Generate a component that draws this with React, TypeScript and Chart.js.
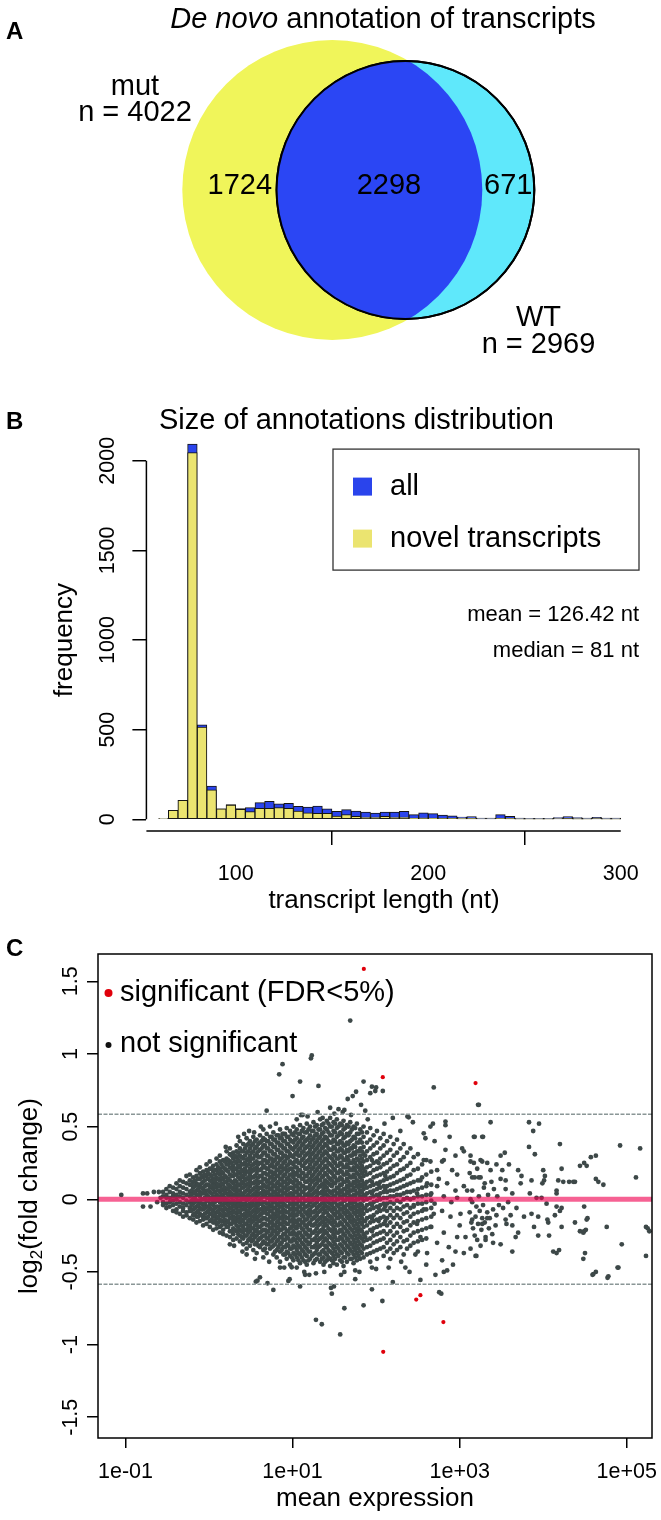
import React, { useEffect, useRef } from "react";
import { Chart, registerables } from "chart.js";

Chart.register(...registerables);

const FAMILY = "'Liberation Sans', Arial, Helvetica, sans-serif";
const font = (size: number, style = "") => `${style} ${size}px ${FAMILY}`.trim();

// ---------------- Panel A : Venn ----------------
const vennTitleItalic = "De novo";
const vennTitleRest = " annotation of transcripts";
const vennSetLabels = ["mut", "WT"];
const vennSetSizes = [4022, 2969];
const vennRegionCounts = [1724, 2298, 671]; // mut only, both, WT only

// ---------------- Panel B : histogram ----------------
const histTitle = "Size of annotations distribution";
const histBreaks = [60, 65, 70, 75, 80, 85, 90, 95, 100, 105, 110, 115, 120, 125, 130, 135, 140, 145, 150, 155, 160, 165, 170, 175, 180, 185, 190, 195, 200, 205, 210, 215, 220, 225, 230, 235, 240, 245, 250, 255, 260, 265, 270, 275, 280, 285, 290, 295, 300];
const histAll = [4, 50, 106, 2093, 527, 186, 59, 82, 60, 65, 93, 100, 87, 89, 72, 69, 74, 58, 45, 54, 46, 41, 35, 41, 41, 45, 26, 37, 32, 24, 19, 13, 15, 7, 7, 26, 17, 7, 6, 6, 6, 10, 15, 10, 7, 11, 7, 7];
const histNovel = [4, 50, 106, 2045, 515, 165, 59, 80, 56, 43, 61, 61, 65, 61, 46, 37, 33, 33, 18, 26, 17, 13, 13, 17, 13, 13, 7, 9, 7, 5, 4, 3, 3, 2, 2, 4, 3, 1, 1, 1, 1, 2, 2, 1, 1, 2, 1, 1];
const histSeriesLabels = ["all", "novel transcripts"];
const histStats = ["mean = 126.42 nt", "median = 81 nt"];
const histXTicks = [100, 200, 300];
const histYTicks = [0, 500, 1000, 1500, 2000];
const histXLabel = "transcript length (nt)";
const histYLabel = "frequency";

// ---------------- Panel C : MA plot ----------------
const maXTicks = [0.1, 10, 1000, 100000];
const maYTicks = [-1.5, -1, -0.5, 0, 0.5, 1, 1.5];
const maFoldThreshold = Math.log2(1.5);
const maLegendLabels = ["significant (FDR<5%)", "not significant"];
const maXLabel = "mean expression";
// [log10(mean expression), log2 fold change]
const maSignificant: [number, number][] = [
  [1.853, 1.585], [2.08, 0.84], [3.19, 0.8], [2.48, -0.69], [2.53, -0.66], [2.805, -0.845], [2.085, -1.05],
];
// dense core, outer columns: [log10(mean), [log2FC ...]]
const maCoreColumns: [number, number[]][] = [
  [-0.55, [0.05, 0.02, -0.02, -0.04]],
  [-0.51, [0.07, 0.03, 0.01, -0.03, -0.06]],
  [-0.47, [0.09, 0.05, 0.01, -0.02, -0.05]],
  [-0.43, [0.08, 0.04, 0.02, -0.01, -0.04, -0.08]],
  [-0.39, [0.11, 0.07, 0.03, 0.0, -0.03, -0.07, -0.09]],
  [-0.35, [0.13, 0.09, 0.05, 0.02, -0.02, -0.05, -0.1]],
  [-0.31, [0.12, 0.08, 0.04, 0.01, -0.03, -0.06, -0.08, -0.12]],
  [-0.27, [0.16, 0.11, 0.07, 0.03, -0.01, -0.04, -0.09, -0.11]],
  [-0.23, [0.17, 0.13, 0.1, 0.05, 0.02, -0.02, -0.06, -0.08, -0.13]],
  [-0.19, [0.15, 0.12, 0.08, 0.04, 0.0, -0.03, -0.07, -0.11, -0.14]],
  [-0.15, [0.2, 0.16, 0.11, 0.06, 0.03, -0.01, -0.05, -0.09, -0.12, -0.16]],
  [-0.11, [0.22, 0.18, 0.14, 0.09, 0.05, 0.02, -0.02, -0.06, -0.1, -0.15]],
  [-0.07, [0.19, 0.15, 0.12, 0.07, 0.04, 0.0, -0.04, -0.07, -0.12, -0.14, -0.18]],
  [-0.03, [0.24, 0.2, 0.16, 0.1, 0.06, 0.03, -0.01, -0.05, -0.09, -0.13, -0.17]],
  [0.01, [0.26, 0.21, 0.17, 0.13, 0.08, 0.05, 0.01, -0.03, -0.06, -0.1, -0.15, -0.19]],
  [0.05, [0.23, 0.19, 0.14, 0.11, 0.07, 0.02, -0.01, -0.04, -0.08, -0.12, -0.16, -0.21]],
  [0.09, [0.28, 0.24, 0.2, 0.15, 0.11, 0.08, 0.03, 0.0, -0.05, -0.09, -0.13, -0.17, -0.2]],
  [0.13, [0.3, 0.26, 0.21, 0.17, 0.13, 0.09, 0.05, 0.01, -0.02, -0.07, -0.1, -0.14, -0.19, -0.23]],
  [0.17, [0.27, 0.22, 0.18, 0.14, 0.1, 0.06, 0.03, -0.01, -0.04, -0.08, -0.12, -0.15, -0.21, -0.24]],
  [0.21, [0.33, 0.28, 0.24, 0.2, 0.15, 0.12, 0.07, 0.04, 0.0, -0.03, -0.07, -0.11, -0.16, -0.19, -0.25]],
  [0.25, [0.35, 0.31, 0.26, 0.22, 0.17, 0.13, 0.09, 0.05, 0.02, -0.02, -0.06, -0.09, -0.13, -0.17, -0.22, -0.26]],
  [0.29, [0.32, 0.28, 0.23, 0.19, 0.16, 0.11, 0.07, 0.03, -0.01, -0.04, -0.08, -0.12, -0.15, -0.2, -0.24, -0.28]],
  [0.33, [0.37, 0.33, 0.29, 0.25, 0.21, 0.17, 0.12, 0.08, 0.04, 0.01, -0.03, -0.06, -0.1, -0.14, -0.18, -0.22, -0.27]],
  [0.37, [0.4, 0.35, 0.3, 0.26, 0.22, 0.18, 0.14, 0.1, 0.06, 0.02, -0.02, -0.05, -0.09, -0.13, -0.16, -0.21, -0.25, -0.29]],
  [0.41, [0.38, 0.33, 0.28, 0.24, 0.19, 0.15, 0.11, 0.08, 0.03, 0.0, -0.04, -0.07, -0.11, -0.15, -0.19, -0.23, -0.27, -0.31]],
  [0.45, [0.42, 0.37, 0.32, 0.27, 0.23, 0.19, 0.14, 0.1, 0.06, 0.02, -0.01, -0.05, -0.08, -0.12, -0.17, -0.21, -0.25, -0.3, -0.34]],
  [0.49, [0.4, 0.35, 0.3, 0.26, 0.21, 0.17, 0.13, 0.09, 0.05, 0.01, -0.03, -0.06, -0.1, -0.14, -0.18, -0.22, -0.27, -0.32]],
  [0.53, [0.43, 0.38, 0.33, 0.28, 0.24, 0.2, 0.15, 0.11, 0.07, 0.03, -0.01, -0.04, -0.08, -0.12, -0.15, -0.2, -0.24, -0.28, -0.35]],
  [0.57, [0.41, 0.36, 0.31, 0.26, 0.22, 0.18, 0.13, 0.09, 0.05, 0.02, -0.02, -0.06, -0.09, -0.13, -0.17, -0.21, -0.25, -0.3, -0.37]],
  [0.61, [0.44, 0.39, 0.34, 0.29, 0.25, 0.2, 0.16, 0.12, 0.08, 0.04, 0.0, -0.03, -0.07, -0.11, -0.15, -0.19, -0.23, -0.27, -0.33]],
  [0.65, [0.42, 0.37, 0.32, 0.27, 0.23, 0.18, 0.14, 0.1, 0.06, 0.02, -0.02, -0.05, -0.09, -0.13, -0.17, -0.21, -0.25, -0.29, -0.35, -0.4]],
  [0.69, [0.45, 0.4, 0.35, 0.3, 0.25, 0.21, 0.17, 0.12, 0.08, 0.04, 0.01, -0.03, -0.07, -0.1, -0.14, -0.18, -0.23, -0.27, -0.31, -0.37]],
  [0.73, [0.43, 0.38, 0.33, 0.28, 0.23, 0.19, 0.15, 0.11, 0.07, 0.03, -0.01, -0.05, -0.08, -0.12, -0.16, -0.2, -0.25, -0.29, -0.34]],
  [0.77, [0.46, 0.41, 0.36, 0.31, 0.26, 0.22, 0.17, 0.13, 0.09, 0.05, 0.01, -0.02, -0.06, -0.1, -0.14, -0.18, -0.22, -0.27, -0.32, -0.38]],
  [0.81, [0.44, 0.39, 0.34, 0.29, 0.24, 0.2, 0.16, 0.11, 0.07, 0.03, 0.0, -0.04, -0.08, -0.12, -0.16, -0.2, -0.24, -0.29, -0.35, -0.4]],
  [0.85, [0.48, 0.42, 0.37, 0.32, 0.27, 0.22, 0.18, 0.14, 0.1, 0.06, 0.02, -0.02, -0.05, -0.09, -0.13, -0.17, -0.21, -0.26, -0.31, -0.36, -0.43]],
  [0.89, [0.45, 0.4, 0.35, 0.3, 0.25, 0.21, 0.16, 0.12, 0.08, 0.04, 0.0, -0.03, -0.07, -0.11, -0.15, -0.19, -0.24, -0.28, -0.33, -0.38]],
  [0.93, [0.49, 0.43, 0.38, 0.33, 0.28, 0.23, 0.19, 0.14, 0.1, 0.06, 0.02, -0.01, -0.05, -0.09, -0.13, -0.17, -0.22, -0.26, -0.31, -0.36, -0.41]],
  [0.97, [0.47, 0.41, 0.36, 0.31, 0.26, 0.21, 0.17, 0.13, 0.08, 0.04, 0.01, -0.03, -0.07, -0.11, -0.15, -0.2, -0.24, -0.29, -0.34, -0.39, -0.45]],
  [1.01, [0.5, 0.44, 0.39, 0.34, 0.29, 0.24, 0.19, 0.15, 0.11, 0.07, 0.03, -0.01, -0.05, -0.09, -0.13, -0.17, -0.22, -0.27, -0.32, -0.37, -0.42]],
  [1.05, [0.48, 0.42, 0.37, 0.32, 0.27, 0.22, 0.18, 0.13, 0.09, 0.05, 0.01, -0.03, -0.07, -0.11, -0.16, -0.2, -0.25, -0.3, -0.35, -0.4, -0.47]],
  [1.09, [0.51, 0.45, 0.4, 0.35, 0.3, 0.25, 0.2, 0.16, 0.11, 0.07, 0.03, -0.01, -0.05, -0.09, -0.14, -0.18, -0.23, -0.28, -0.33, -0.38, -0.44]],
  [1.13, [0.49, 0.43, 0.38, 0.33, 0.28, 0.23, 0.18, 0.14, 0.09, 0.05, 0.01, -0.03, -0.07, -0.12, -0.16, -0.21, -0.26, -0.31, -0.36, -0.42]],
  [1.17, [0.52, 0.46, 0.41, 0.36, 0.31, 0.26, 0.21, 0.16, 0.12, 0.08, 0.03, -0.01, -0.05, -0.1, -0.14, -0.19, -0.24, -0.29, -0.34, -0.39, -0.45]],
  [1.21, [0.5, 0.44, 0.39, 0.34, 0.29, 0.24, 0.19, 0.14, 0.1, 0.06, 0.02, -0.02, -0.07, -0.11, -0.16, -0.21, -0.25, -0.3, -0.36, -0.41]],
  [1.25, [0.53, 0.47, 0.42, 0.37, 0.32, 0.27, 0.22, 0.17, 0.13, 0.08, 0.04, 0.0, -0.04, -0.09, -0.13, -0.18, -0.23, -0.28, -0.33, -0.38, -0.44]],
  [1.29, [0.51, 0.45, 0.4, 0.35, 0.3, 0.25, 0.2, 0.15, 0.11, 0.06, 0.02, -0.02, -0.06, -0.11, -0.15, -0.2, -0.25, -0.3, -0.35, -0.41]],
  [1.33, [0.55, 0.48, 0.43, 0.38, 0.33, 0.28, 0.23, 0.18, 0.13, 0.09, 0.04, 0.0, -0.04, -0.08, -0.13, -0.17, -0.22, -0.27, -0.32, -0.38, -0.43]],
  [1.37, [0.52, 0.46, 0.41, 0.36, 0.31, 0.26, 0.21, 0.16, 0.11, 0.07, 0.03, -0.02, -0.06, -0.1, -0.15, -0.19, -0.24, -0.29, -0.35, -0.4, -0.45]],
  [1.41, [0.54, 0.48, 0.42, 0.37, 0.32, 0.27, 0.22, 0.17, 0.12, 0.08, 0.03, -0.01, -0.05, -0.09, -0.14, -0.18, -0.23, -0.28, -0.33, -0.38, -0.42]],
  [1.45, [0.56, 0.5, 0.44, 0.39, 0.34, 0.29, 0.24, 0.19, 0.14, 0.1, 0.05, 0.01, -0.03, -0.07, -0.12, -0.16, -0.21, -0.26, -0.31, -0.36, -0.41, -0.46]],
  [1.49, [0.53, 0.47, 0.41, 0.36, 0.31, 0.26, 0.21, 0.16, 0.11, 0.06, 0.02, -0.02, -0.06, -0.1, -0.15, -0.19, -0.24, -0.29, -0.34, -0.39, -0.44]],
  [1.53, [0.55, 0.49, 0.43, 0.38, 0.33, 0.28, 0.23, 0.18, 0.13, 0.08, 0.04, 0.0, -0.04, -0.09, -0.13, -0.18, -0.23, -0.28, -0.33, -0.38, -0.45]],
  [1.57, [0.52, 0.46, 0.4, 0.35, 0.3, 0.25, 0.2, 0.15, 0.1, 0.06, 0.02, -0.03, -0.07, -0.11, -0.16, -0.21, -0.26, -0.31, -0.36, -0.42]],
  [1.61, [0.54, 0.48, 0.42, 0.37, 0.32, 0.27, 0.22, 0.17, 0.12, 0.07, 0.03, -0.01, -0.05, -0.09, -0.14, -0.19, -0.24, -0.29, -0.34, -0.4, -0.46]],
  [1.65, [0.51, 0.45, 0.39, 0.34, 0.29, 0.24, 0.19, 0.14, 0.09, 0.05, 0.01, -0.04, -0.08, -0.12, -0.17, -0.22, -0.27, -0.32, -0.37, -0.43]],
  [1.69, [0.53, 0.46, 0.4, 0.35, 0.3, 0.25, 0.2, 0.15, 0.1, 0.06, 0.02, -0.02, -0.06, -0.11, -0.15, -0.2, -0.25, -0.3, -0.35, -0.41]],
  [1.73, [0.5, 0.43, 0.37, 0.32, 0.27, 0.22, 0.17, 0.12, 0.08, 0.03, -0.01, -0.05, -0.09, -0.14, -0.18, -0.23, -0.28, -0.33, -0.38, -0.44]],
  [1.77, [0.52, 0.45, 0.39, 0.33, 0.28, 0.23, 0.18, 0.13, 0.09, 0.04, 0.0, -0.04, -0.08, -0.12, -0.17, -0.22, -0.27, -0.32, -0.37, -0.42]],
  [1.81, [0.48, 0.41, 0.35, 0.3, 0.25, 0.2, 0.15, 0.1, 0.06, 0.02, -0.03, -0.07, -0.11, -0.16, -0.21, -0.26, -0.31, -0.36, -0.41]],
  [1.85, [0.5, 0.43, 0.36, 0.31, 0.26, 0.21, 0.16, 0.11, 0.07, 0.03, -0.01, -0.06, -0.1, -0.15, -0.19, -0.24, -0.29, -0.34, -0.4]],
  [1.89, [0.46, 0.39, 0.33, 0.27, 0.22, 0.17, 0.12, 0.08, 0.04, 0.0, -0.04, -0.08, -0.13, -0.18, -0.23, -0.28, -0.33, -0.38]],
  [1.93, [0.49, 0.41, 0.35, 0.29, 0.23, 0.18, 0.13, 0.09, 0.05, 0.01, -0.03, -0.07, -0.12, -0.16, -0.21, -0.27, -0.32, -0.37, -0.43]],
  [1.97, [0.44, 0.37, 0.31, 0.25, 0.2, 0.15, 0.1, 0.06, 0.02, -0.02, -0.06, -0.11, -0.15, -0.2, -0.25, -0.3, -0.36]],
  [2.01, [0.47, 0.39, 0.32, 0.26, 0.21, 0.16, 0.11, 0.07, 0.03, -0.01, -0.05, -0.09, -0.14, -0.19, -0.24, -0.29, -0.35, -0.41]],
  [2.05, [0.42, 0.35, 0.28, 0.22, 0.17, 0.12, 0.08, 0.04, 0.0, -0.04, -0.08, -0.13, -0.18, -0.23, -0.28, -0.34]],
  [2.09, [0.45, 0.37, 0.3, 0.24, 0.18, 0.13, 0.09, 0.05, 0.01, -0.03, -0.07, -0.12, -0.17, -0.22, -0.27, -0.33, -0.39]],
  [2.13, [0.4, 0.32, 0.25, 0.19, 0.14, 0.09, 0.05, 0.01, -0.03, -0.08, -0.13, -0.18, -0.24, -0.3, -0.36]],
  [2.17, [0.43, 0.34, 0.27, 0.21, 0.15, 0.1, 0.06, 0.02, -0.02, -0.06, -0.11, -0.16, -0.22, -0.28, -0.34, -0.41]],
  [2.21, [0.38, 0.3, 0.23, 0.16, 0.11, 0.06, 0.02, -0.03, -0.08, -0.13, -0.19, -0.25, -0.31, -0.37]],
  [2.25, [0.41, 0.32, 0.24, 0.18, 0.12, 0.07, 0.03, -0.01, -0.06, -0.11, -0.17, -0.23, -0.29, -0.35]],
  [2.29, [0.35, 0.27, 0.2, 0.13, 0.08, 0.03, -0.02, -0.07, -0.13, -0.19, -0.26, -0.33]],
  [2.33, [0.38, 0.29, 0.21, 0.14, 0.09, 0.04, 0.0, -0.05, -0.1, -0.16, -0.22, -0.29, -0.38]],
  [2.37, [0.32, 0.23, 0.16, 0.1, 0.05, 0.01, -0.04, -0.09, -0.15, -0.21, -0.28, -0.34]],
  [2.41, [0.35, 0.25, 0.17, 0.11, 0.05, 0.0, -0.06, -0.12, -0.18, -0.25, -0.32]],
  [2.45, [0.29, 0.2, 0.12, 0.06, 0.01, -0.04, -0.1, -0.16, -0.23, -0.3]],
  [2.5, [0.31, 0.21, 0.13, 0.07, 0.02, -0.03, -0.09, -0.15, -0.22, -0.29, -0.36]],
  [2.55, [0.24, 0.15, 0.08, 0.02, -0.03, -0.08, -0.14, -0.21, -0.28]],
  [2.6, [0.27, 0.17, 0.09, 0.03, -0.02, -0.07, -0.13, -0.2, -0.27]],
  [2.66, [0.19, 0.1, 0.04, -0.01, -0.06, -0.12, -0.19]],
];
// dense core, inner columns (between the outer ones)
const maCoreInner: [number, number[]][] = [
  [-0.21, [0.1, 0.06, 0.03, -0.01, -0.04, -0.08]],
  [-0.17, [0.13, 0.09, 0.05, 0.01, -0.02, -0.06, -0.1]],
  [-0.13, [0.14, 0.1, 0.07, 0.03, -0.01, -0.04, -0.08, -0.12]],
  [-0.09, [0.16, 0.11, 0.08, 0.04, 0.0, -0.03, -0.07, -0.11]],
  [-0.05, [0.17, 0.13, 0.09, 0.05, 0.01, -0.03, -0.06, -0.1, -0.13]],
  [-0.01, [0.18, 0.14, 0.1, 0.06, 0.02, -0.01, -0.05, -0.08, -0.12]],
  [0.03, [0.21, 0.16, 0.12, 0.09, 0.04, 0.0, -0.03, -0.07, -0.1, -0.14]],
  [0.07, [0.2, 0.17, 0.13, 0.09, 0.05, 0.01, -0.02, -0.06, -0.11, -0.15]],
  [0.11, [0.22, 0.18, 0.14, 0.1, 0.06, 0.02, -0.01, -0.05, -0.08, -0.12, -0.16]],
  [0.15, [0.24, 0.19, 0.15, 0.11, 0.07, 0.03, 0.0, -0.04, -0.07, -0.11, -0.15, -0.18]],
  [0.19, [0.26, 0.21, 0.16, 0.12, 0.08, 0.05, 0.01, -0.02, -0.06, -0.1, -0.14, -0.17]],
  [0.23, [0.27, 0.24, 0.19, 0.14, 0.1, 0.07, 0.03, -0.01, -0.04, -0.08, -0.11, -0.15, -0.19]],
  [0.27, [0.3, 0.25, 0.21, 0.16, 0.12, 0.08, 0.04, 0.01, -0.03, -0.06, -0.1, -0.13, -0.17, -0.22]],
  [0.31, [0.3, 0.26, 0.21, 0.17, 0.13, 0.09, 0.06, 0.02, -0.02, -0.05, -0.09, -0.13, -0.16, -0.21]],
  [0.35, [0.32, 0.27, 0.23, 0.19, 0.15, 0.1, 0.06, 0.03, -0.01, -0.04, -0.08, -0.12, -0.15, -0.19, -0.24]],
  [0.39, [0.33, 0.29, 0.24, 0.2, 0.16, 0.12, 0.08, 0.04, 0.0, -0.03, -0.07, -0.11, -0.14, -0.18, -0.22, -0.26]],
  [0.43, [0.35, 0.3, 0.25, 0.21, 0.17, 0.13, 0.09, 0.05, 0.01, -0.03, -0.06, -0.1, -0.13, -0.17, -0.21, -0.25]],
  [0.47, [0.38, 0.33, 0.28, 0.24, 0.19, 0.15, 0.11, 0.07, 0.03, 0.0, -0.04, -0.08, -0.11, -0.15, -0.19, -0.23, -0.28]],
  [0.51, [0.37, 0.32, 0.28, 0.23, 0.19, 0.15, 0.11, 0.06, 0.02, -0.02, -0.05, -0.09, -0.12, -0.16, -0.2, -0.25, -0.29]],
  [0.55, [0.4, 0.35, 0.3, 0.25, 0.21, 0.16, 0.12, 0.08, 0.04, 0.0, -0.04, -0.07, -0.11, -0.14, -0.18, -0.22, -0.26, -0.31]],
  [0.59, [0.38, 0.33, 0.29, 0.24, 0.2, 0.15, 0.11, 0.07, 0.03, -0.01, -0.04, -0.08, -0.12, -0.15, -0.19, -0.23, -0.28, -0.32]],
  [0.63, [0.4, 0.35, 0.3, 0.25, 0.21, 0.16, 0.12, 0.08, 0.04, 0.01, -0.03, -0.07, -0.1, -0.14, -0.18, -0.22, -0.26, -0.31]],
  [0.67, [0.41, 0.37, 0.32, 0.27, 0.22, 0.18, 0.14, 0.09, 0.05, 0.02, -0.02, -0.06, -0.09, -0.13, -0.17, -0.21, -0.25, -0.3, -0.34]],
  [0.71, [0.4, 0.35, 0.3, 0.26, 0.21, 0.17, 0.13, 0.09, 0.05, 0.01, -0.03, -0.06, -0.1, -0.14, -0.18, -0.22, -0.27, -0.31]],
  [0.75, [0.43, 0.38, 0.33, 0.28, 0.24, 0.19, 0.15, 0.11, 0.07, 0.03, 0.0, -0.04, -0.08, -0.12, -0.16, -0.2, -0.24, -0.29, -0.33]],
  [0.79, [0.41, 0.36, 0.31, 0.27, 0.22, 0.18, 0.14, 0.09, 0.05, 0.02, -0.02, -0.06, -0.1, -0.13, -0.18, -0.22, -0.26, -0.31, -0.36]],
  [0.83, [0.44, 0.39, 0.34, 0.29, 0.25, 0.2, 0.16, 0.12, 0.08, 0.04, 0.0, -0.03, -0.07, -0.11, -0.15, -0.19, -0.23, -0.28, -0.33]],
  [0.87, [0.42, 0.37, 0.32, 0.28, 0.23, 0.19, 0.14, 0.1, 0.06, 0.02, -0.01, -0.05, -0.09, -0.13, -0.17, -0.21, -0.26, -0.3, -0.35]],
  [0.91, [0.45, 0.4, 0.35, 0.3, 0.26, 0.21, 0.17, 0.12, 0.08, 0.04, 0.0, -0.04, -0.08, -0.12, -0.16, -0.2, -0.24, -0.28, -0.33, -0.38]],
  [0.95, [0.43, 0.38, 0.33, 0.29, 0.24, 0.2, 0.15, 0.11, 0.07, 0.03, -0.01, -0.05, -0.09, -0.13, -0.17, -0.22, -0.27, -0.32, -0.37]],
  [0.99, [0.45, 0.4, 0.35, 0.3, 0.25, 0.21, 0.17, 0.12, 0.08, 0.04, 0.01, -0.03, -0.07, -0.11, -0.15, -0.19, -0.24, -0.29, -0.34, -0.4]],
  [1.03, [0.46, 0.41, 0.36, 0.31, 0.26, 0.22, 0.17, 0.13, 0.09, 0.05, 0.01, -0.03, -0.07, -0.11, -0.15, -0.19, -0.24, -0.28, -0.33, -0.38]],
  [1.07, [0.45, 0.39, 0.34, 0.3, 0.25, 0.2, 0.16, 0.11, 0.07, 0.03, -0.01, -0.05, -0.09, -0.14, -0.18, -0.23, -0.27, -0.32, -0.37, -0.42]],
  [1.11, [0.47, 0.42, 0.37, 0.32, 0.27, 0.23, 0.18, 0.14, 0.09, 0.05, 0.01, -0.03, -0.07, -0.11, -0.16, -0.2, -0.25, -0.3, -0.35, -0.4]],
  [1.15, [0.46, 0.4, 0.35, 0.3, 0.25, 0.21, 0.16, 0.12, 0.07, 0.03, -0.01, -0.05, -0.09, -0.14, -0.18, -0.23, -0.28, -0.33, -0.38, -0.43]],
  [1.19, [0.48, 0.42, 0.37, 0.32, 0.27, 0.22, 0.18, 0.13, 0.08, 0.04, 0.0, -0.04, -0.08, -0.12, -0.17, -0.21, -0.26, -0.31, -0.36, -0.42]],
  [1.23, [0.47, 0.41, 0.36, 0.31, 0.26, 0.21, 0.16, 0.12, 0.07, 0.03, -0.01, -0.05, -0.09, -0.14, -0.18, -0.23, -0.28, -0.33, -0.39]],
  [1.27, [0.5, 0.44, 0.39, 0.34, 0.29, 0.24, 0.19, 0.14, 0.1, 0.05, 0.01, -0.03, -0.08, -0.12, -0.17, -0.22, -0.27, -0.32, -0.37, -0.42]],
  [1.31, [0.48, 0.42, 0.37, 0.32, 0.27, 0.22, 0.17, 0.13, 0.08, 0.04, 0.0, -0.05, -0.09, -0.14, -0.18, -0.23, -0.28, -0.33, -0.38]],
  [1.35, [0.51, 0.45, 0.4, 0.35, 0.3, 0.25, 0.2, 0.15, 0.1, 0.05, 0.01, -0.03, -0.07, -0.12, -0.16, -0.21, -0.26, -0.31, -0.36, -0.41]],
  [1.39, [0.49, 0.43, 0.38, 0.33, 0.28, 0.23, 0.18, 0.13, 0.09, 0.05, 0.0, -0.04, -0.08, -0.13, -0.17, -0.22, -0.27, -0.32, -0.37, -0.43]],
  [1.43, [0.52, 0.46, 0.4, 0.35, 0.3, 0.25, 0.2, 0.15, 0.11, 0.06, 0.02, -0.02, -0.06, -0.11, -0.15, -0.2, -0.25, -0.3, -0.35, -0.4]],
  [1.47, [0.5, 0.44, 0.39, 0.34, 0.28, 0.23, 0.18, 0.13, 0.09, 0.04, 0.0, -0.04, -0.08, -0.13, -0.17, -0.22, -0.27, -0.32, -0.37, -0.42]],
  [1.51, [0.52, 0.46, 0.4, 0.35, 0.3, 0.25, 0.2, 0.15, 0.11, 0.06, 0.02, -0.02, -0.07, -0.11, -0.16, -0.21, -0.26, -0.31, -0.36, -0.41]],
  [1.55, [0.5, 0.44, 0.38, 0.33, 0.28, 0.23, 0.18, 0.13, 0.08, 0.04, 0.0, -0.05, -0.09, -0.13, -0.18, -0.23, -0.28, -0.34, -0.39]],
  [1.59, [0.51, 0.45, 0.39, 0.34, 0.29, 0.24, 0.19, 0.14, 0.1, 0.05, 0.01, -0.03, -0.07, -0.12, -0.17, -0.22, -0.27, -0.32, -0.37, -0.43]],
  [1.63, [0.49, 0.43, 0.37, 0.32, 0.27, 0.22, 0.17, 0.12, 0.07, 0.03, -0.01, -0.06, -0.1, -0.15, -0.2, -0.25, -0.3, -0.35, -0.4]],
  [1.67, [0.5, 0.44, 0.38, 0.33, 0.27, 0.22, 0.17, 0.12, 0.08, 0.04, 0.0, -0.04, -0.09, -0.13, -0.18, -0.23, -0.28, -0.33, -0.38]],
  [1.71, [0.48, 0.41, 0.35, 0.3, 0.25, 0.2, 0.15, 0.1, 0.06, 0.01, -0.03, -0.07, -0.12, -0.16, -0.21, -0.26, -0.31, -0.36, -0.41]],
  [1.75, [0.49, 0.42, 0.36, 0.31, 0.25, 0.2, 0.15, 0.11, 0.06, 0.02, -0.02, -0.06, -0.1, -0.15, -0.2, -0.25, -0.3, -0.35, -0.4]],
  [1.79, [0.45, 0.39, 0.33, 0.27, 0.22, 0.17, 0.12, 0.08, 0.04, 0.0, -0.05, -0.09, -0.14, -0.19, -0.24, -0.29, -0.34, -0.39]],
  [1.83, [0.46, 0.39, 0.33, 0.28, 0.23, 0.18, 0.13, 0.09, 0.05, 0.01, -0.04, -0.08, -0.13, -0.17, -0.22, -0.27, -0.32, -0.37]],
  [1.87, [0.3, 0.19, 0.1, 0.02, -0.06, -0.15, -0.26]],
  [1.95, [0.27, 0.12, 0.04, -0.04, -0.13, -0.22]],
  [2.03, [0.25, 0.1, 0.02, -0.06, -0.15]],
  [2.11, [0.16, 0.07, -0.05, -0.15]],
];
// isolated points outside the dense core
const maScattered: [number, number][] = [
  [-1.05, 0.03], [-0.79, 0.04], [-0.74, 0.04], [-0.79, -0.05], [-0.7, -0.05], [-0.66, 0.05], [-0.6, 0.05], [-0.62, -0.02], [-0.58, 0.01],
  [1.69, 1.23], [1.23, 0.99], [1.22, 0.97], [0.88, 0.93], [0.84, 0.86], [1.09, 0.81], [1.31, 0.78], [1.85, 0.81], [1.95, 0.775],
  [2.0, 0.77], [1.99, 0.745], [2.08, 0.745], [2.69, 0.77], [1.0, 0.71], [1.45, 0.63], [1.62, 0.615], [0.69, 0.61], [1.1, 0.58],
  [1.72, 0.71], [1.76, 0.74], [1.66, 0.69], [1.93, 0.73], [3.22, 0.65], [2.375, 0.57], [2.44, 0.53], [2.65, 0.5], [2.83, 0.51],
  [2.83, 0.535], [1.36, 0.56], [0.73, 0.5], [0.88, 0.45], [1.05, 0.55], [1.6, 0.6], [1.82, 0.65], [1.87, 0.61], [2.2, 0.56],
  [2.29, 0.47], [0.42, 0.45], [0.54, 0.46], [0.65, 0.48], [1.18, 0.57], [1.5, 0.59],
  [0.2, 0.36], [0.35, 0.43], [0.48, 0.47], [0.62, 0.5], [0.8, 0.52], [1.12, 0.58], [1.3, 0.6], [1.55, 0.62], [1.7, 0.58], [1.9, 0.55], [2.1, 0.52],
  [0.25, -0.31], [0.4, -0.36], [0.55, -0.41], [0.72, -0.43], [0.9, -0.47], [1.15, -0.52], [1.38, -0.5], [1.58, -0.52], [1.75, -0.49], [1.95, -0.47], [2.15, -0.47], [2.3, -0.43],
  [0.56, -0.567], [0.61, -0.537], [0.7, -0.578], [0.77, -0.624], [0.95, -0.562], [0.99, -0.468], [1.09, -0.6], [1.14, -0.5],
  [1.28, -0.51], [1.28, -0.83], [1.35, -0.86], [1.47, -0.65], [1.495, -0.6], [1.57, -0.93], [1.62, -0.75], [1.85, -0.73],
  [1.95, -0.62], [2.075, -0.7], [2.2, -0.57], [2.53, -0.555], [2.71, -0.52], [2.755, -0.64], [2.78, -0.65], [2.85, -0.49],
  [0.58, -0.56], [0.965, -0.55], [1.46, -0.61], [1.2, -0.52], [1.62, -0.5], [1.8, -0.5], [1.75, -0.55], [2.35, -0.47],
  [2.4, -0.5], [2.0, -0.48], [0.85, -0.47], [0.45, -0.38], [0.3, -0.32],
  [2.39, 0.564], [2.57, 0.454], [2.59, 0.42], [2.68, 0.52], [2.83, 0.34], [2.81, 0.27], [2.73, 0.2], [2.79, 0.26], [3.03, 0.35],
  [3.05, 0.33], [3.17, 0.43], [3.27, 0.43], [3.13, 0.26], [3.25, 0.27], [3.33, 0.25], [2.57, 0.27], [2.65, 0.26], [2.91, 0.2],
  [2.97, 0.17], [3.15, 0.15], [3.23, 0.15], [3.05, 0.09], [3.09, 0.06], [3.15, 0.06], [2.53, 0.13], [2.61, 0.11], [2.73, 0.09],
  [2.85, 0.11], [2.95, 0.06], [2.49, 0.04], [2.65, 0.03], [2.81, 0.02], [2.97, 0.01], [3.13, 0.0], [2.45, -0.05], [2.57, -0.07],
  [2.69, -0.1], [2.79, -0.08], [2.89, -0.12], [3.01, -0.1], [3.15, -0.14], [3.27, -0.17], [3.33, -0.13], [2.49, -0.17],
  [2.65, -0.19], [2.81, -0.23], [2.97, -0.26], [3.07, -0.26], [3.21, -0.28], [3.31, -0.26], [2.53, -0.26], [2.73, -0.3],
  [2.87, -0.33], [3.05, -0.37], [3.19, -0.39], [2.61, -0.37], [2.79, -0.42], [2.95, -0.36], [2.47, -0.38], [2.81, -0.5],
  [2.7, 0.4], [2.88, 0.43], [2.95, 0.3], [2.75, 0.14], [2.9, -0.02], [2.7, -0.03], [3.0, -0.18], [2.6, -0.45], [2.92, -0.45],
  [3.18, 0.43], [3.28, 0.43], [3.23, 0.65], [3.37, 0.53], [3.83, 0.53], [3.95, 0.52], [3.88, 0.47], [4.2, 0.38], [4.92, 0.37],
  [5.16, 0.35], [5.11, 0.15], [3.83, 0.36], [3.9, 0.31], [4.57, 0.29], [4.63, 0.3], [4.49, 0.25], [4.52, 0.23], [4.63, 0.14],
  [4.66, 0.12], [4.72, 0.1], [4.31, 0.12], [4.38, 0.12], [4.22, 0.21], [4.0, 0.2], [4.02, 0.16], [4.01, 0.13], [3.99, 0.11],
  [4.18, 0.13], [4.16, 0.04], [3.86, 0.13], [3.73, 0.11], [3.74, 0.16], [3.7, 0.2], [3.59, 0.24], [3.49, 0.3], [3.54, 0.32],
  [3.51, 0.2], [3.37, 0.2], [3.27, 0.26], [3.17, 0.25], [3.13, 0.3], [3.18, 0.15], [3.25, 0.15], [3.3, 0.11], [3.49, 0.14],
  [3.55, 0.13], [3.55, 0.07], [3.41, 0.07], [3.84, 0.04], [3.92, 0.01], [3.98, 0.01], [4.04, -0.03], [4.16, -0.05], [4.22, -0.06],
  [4.49, -0.05], [4.53, -0.13], [4.38, -0.16], [4.44, -0.22], [4.48, -0.23], [4.76, -0.19], [4.51, -0.21], [5.23, -0.19],
  [5.27, -0.22], [4.94, -0.31], [5.23, -0.39], [4.48, -0.41], [4.5, -0.37], [4.59, -0.52], [4.63, -0.5], [4.77, -0.54],
  [4.89, -0.47], [4.12, -0.36], [4.16, -0.37], [4.07, -0.25], [3.94, -0.25], [3.89, -0.19], [3.86, -0.1], [3.77, -0.12],
  [3.94, -0.12], [4.05, -0.14], [4.06, -0.16], [4.22, -0.19], [4.14, -0.11], [4.2, -0.08], [3.63, -0.36], [3.49, -0.31],
  [3.67, -0.26], [3.7, -0.23], [3.63, -0.18], [3.61, -0.11], [3.55, -0.14], [3.56, -0.17], [3.31, -0.28], [3.2, -0.39],
  [3.15, -0.02], [3.2, -0.05], [3.24, -0.08], [3.28, -0.04], [3.33, -0.09], [3.36, -0.13], [3.4, -0.07], [3.44, -0.11],
  [3.47, -0.04], [3.19, -0.12], [3.22, -0.17], [3.26, -0.21], [3.3, -0.16], [3.35, -0.2], [3.39, -0.24], [3.43, -0.18],
  [3.16, -0.2], [3.18, -0.25], [3.27, -0.13], [3.12, -0.09], [3.14, -0.16], [3.52, -0.06], [3.58, -0.02], [3.45, 0.02],
  [3.34, 0.03], [3.23, 0.02], [3.29, 0.08], [3.63, 0.04], [3.68, -0.06], [3.4, -0.3], [3.25, -0.32], [3.13, -0.34],
  [3.38, 0.12], [3.12, 0.18], [3.21, 0.21], [3.44, 0.24], [4.49, -0.22], [4.52, -0.14], [4.6, -0.515], [4.9, -0.47],
  [4.78, -0.53], [4.19, -0.35], [5.25, -0.2], [4.36, 0.12], [4.24, 0.12], [4.16, 0.06], [4.44, 0.23],
];

// ---------------- colours ----------------
const C_YELLOW_V = "#f0f55a";
const C_CYAN_V = "#5fe8fb";
const C_BLUE_V = "#2b46f4";
const C_BLUE_H = "#2a44ec";
const C_YELLOW_H = "#ebe470";
const C_GREY_PT = "#3d4848";
const C_RED_PT = "#e0000b";

// ---------------- helpers ----------------
function lensArea(r1: number, r2: number, d: number) {
  if (d >= r1 + r2) return 0;
  if (d <= Math.abs(r1 - r2)) return Math.PI * Math.min(r1, r2) ** 2;
  const a1 = Math.acos((d * d + r1 * r1 - r2 * r2) / (2 * d * r1));
  const a2 = Math.acos((d * d + r2 * r2 - r1 * r1) / (2 * d * r2));
  return r1 * r1 * (a1 - Math.sin(2 * a1) / 2) + r2 * r2 * (a2 - Math.sin(2 * a2) / 2);
}
function centreDistance(r1: number, r2: number, area: number) {
  let lo = Math.abs(r1 - r2);
  let hi = r1 + r2;
  for (let i = 0; i < 80; i++) {
    const m = (lo + hi) / 2;
    if (lensArea(r1, r2, m) > area) lo = m;
    else hi = m;
  }
  return (lo + hi) / 2;
}
const rMut = Math.sqrt(vennSetSizes[0] / Math.PI);
const rWT = Math.sqrt(vennSetSizes[1] / Math.PI);
const dVenn = centreDistance(rMut, rWT, vennRegionCounts[1]);

function text(ctx: any, s: string, x: number, y: number, f: string, align = "center", baseline = "alphabetic", rot = 0) {
  ctx.save();
  ctx.font = f;
  ctx.fillStyle = "#000";
  ctx.textAlign = align;
  ctx.textBaseline = baseline;
  ctx.translate(x, y);
  if (rot) ctx.rotate(rot);
  ctx.fillText(s, 0, 0);
  ctx.restore();
}
function line(ctx: any, x1: number, y1: number, x2: number, y2: number, w = 1.5, color = "#000", dash: number[] = []) {
  ctx.save();
  ctx.beginPath();
  ctx.strokeStyle = color;
  ctx.lineWidth = w;
  ctx.setLineDash(dash);
  ctx.moveTo(x1, y1);
  ctx.lineTo(x2, y2);
  ctx.stroke();
  ctx.restore();
}
function rExp(v: number) {
  const e = Math.round(Math.log10(v));
  const m = Math.round(v / Math.pow(10, e));
  return `${m}e${e < 0 ? "-" : "+"}${String(Math.abs(e)).padStart(2, "0")}`;
}
const fixedTicks = (vals: number[]) => (s: any) => {
  s.ticks = vals.map((v) => ({ value: v }));
};

// ---------------- Panel A config ----------------
const A_W = 661;
const A_H = 370;
const vennPxPerUnit = 150 / rMut;
const vennCentrePx = { x: 332.3, y: 190 };
const radiusPx = (chart: any, r: number) => {
  const s = chart.scales.x;
  return Math.abs(s.getPixelForValue(r) - s.getPixelForValue(0));
};

const vennPlugin = {
  id: "venn",
  afterDatasetsDraw(chart: any) {
    const ctx = chart.ctx;
    const xs = chart.scales.x;
    const ys = chart.scales.y;
    const cx1 = xs.getPixelForValue(0);
    const cx2 = xs.getPixelForValue(dVenn);
    const cy = ys.getPixelForValue(0);
    const r1 = radiusPx(chart, rMut);
    const r2 = radiusPx(chart, rWT);
    ctx.save();
    ctx.beginPath();
    ctx.arc(cx1, cy, r1, 0, Math.PI * 2);
    ctx.clip();
    ctx.beginPath();
    ctx.arc(cx2, cy, r2, 0, Math.PI * 2);
    ctx.fillStyle = C_BLUE_V;
    ctx.fill();
    ctx.restore();
    ctx.save();
    ctx.beginPath();
    ctx.arc(cx2, cy, r2, 0, Math.PI * 2);
    ctx.lineWidth = 2;
    ctx.strokeStyle = "#000";
    ctx.stroke();
    ctx.restore();

    const f29 = font(29);
    const yb = cy + 3.5;
    const l1 = cx1 - r1 + 0.61 * (cx2 - r2 - (cx1 - r1));
    const l2 = cx2 - r2 + 0.546 * (cx1 + r1 - (cx2 - r2));
    const l3 = cx1 + r1 + 0.5 * (cx2 + r2 - (cx1 + r1));
    text(ctx, String(vennRegionCounts[0]), l1, yb, f29);
    text(ctx, String(vennRegionCounts[1]), l2, yb, f29);
    text(ctx, String(vennRegionCounts[2]), l3, yb, f29);

    text(ctx, vennSetLabels[0], 135, 95, f29);
    text(ctx, `n = ${vennSetSizes[0]}`, 135, 121, f29);
    text(ctx, vennSetLabels[1], 538.5, 326, f29);
    text(ctx, `n = ${vennSetSizes[1]}`, 538.5, 353, f29);

    ctx.save();
    ctx.font = font(29, "italic");
    const w1 = ctx.measureText(vennTitleItalic).width;
    ctx.font = font(29);
    const w2 = ctx.measureText(vennTitleRest).width;
    ctx.restore();
    const x0 = 383 - (w1 + w2) / 2;
    text(ctx, vennTitleItalic, x0, 28, font(29, "italic"), "left");
    text(ctx, vennTitleRest, x0 + w1, 28, font(29), "left");
    text(ctx, "A", 6, 39, font(24, "bold"), "left");
  },
};

function vennConfig(): any {
  return {
    type: "scatter",
    data: {
      datasets: [
        {
          label: vennSetLabels[1],
          data: [{ x: dVenn, y: 0 }],
          pointBackgroundColor: C_CYAN_V,
          pointBorderColor: "#000",
          pointBorderWidth: 2,
          pointRadius: (c: any) => radiusPx(c.chart, rWT),
          order: 1,
        },
        {
          label: vennSetLabels[0],
          data: [{ x: 0, y: 0 }],
          pointBackgroundColor: C_YELLOW_V,
          pointBorderWidth: 0,
          pointBorderColor: C_YELLOW_V,
          pointRadius: (c: any) => radiusPx(c.chart, rMut),
          order: 2,
        },
      ],
    },
    options: {
      responsive: false,
      animation: false,
      events: [],
      layout: { padding: 0 },
      plugins: { legend: { display: false }, tooltip: { enabled: false } },
      scales: {
        x: { type: "linear", display: false, min: -vennCentrePx.x / vennPxPerUnit, max: (A_W - vennCentrePx.x) / vennPxPerUnit },
        y: { type: "linear", display: false, min: -(A_H - vennCentrePx.y) / vennPxPerUnit, max: vennCentrePx.y / vennPxPerUnit },
      },
    },
    plugins: [vennPlugin],
  };
}

// ---------------- Panel B config ----------------
const B_H = 545;
const histPlugin = {
  id: "histDecor",
  afterDraw(chart: any) {
    const ctx = chart.ctx;
    const xs = chart.scales.x;
    const ys = chart.scales.y;
    const ca = chart.chartArea;
    line(ctx, ca.left, ys.getPixelForValue(histYTicks[0]), ca.left, ys.getPixelForValue(histYTicks[histYTicks.length - 1]), 1.5);
    line(ctx, ca.left, ca.bottom, xs.getPixelForValue(histXTicks[histXTicks.length - 1]), ca.bottom, 1.5);
    const ft = font(21.5);
    histYTicks.forEach((v) => text(ctx, String(v), ca.left - 38, ys.getPixelForValue(v), ft, "center", "middle", -Math.PI / 2));
    histXTicks.forEach((v) => text(ctx, String(v), xs.getPixelForValue(v), ca.bottom + 49, ft));
    text(ctx, histTitle, 356.5, 59, font(29));
    text(ctx, histXLabel, 384, ca.bottom + 76.5, font(26));
    text(ctx, histYLabel, 65, (ys.getPixelForValue(histYTicks[0]) + ys.getPixelForValue(histYTicks[histYTicks.length - 1])) / 2, font(26), "center", "middle", -Math.PI / 2);
    const lx = ca.right - 307;
    const ly = ca.top + 9;
    ctx.save();
    ctx.strokeStyle = "#333";
    ctx.lineWidth = 1.3;
    ctx.strokeRect(lx, ly, 306, 121);
    ctx.restore();
    const entries = [
      { label: histSeriesLabels[0], color: C_BLUE_H },
      { label: histSeriesLabels[1], color: C_YELLOW_H },
    ];
    entries.forEach((e, i) => {
      const cy = ly + 37.5 + i * 52;
      ctx.save();
      ctx.fillStyle = e.color;
      ctx.fillRect(lx + 20, cy - 9, 19, 18);
      ctx.restore();
      text(ctx, e.label, lx + 57, cy, font(29), "left", "middle");
    });
    text(ctx, histStats[0], ca.right - 1, ca.top + 181, font(22), "right");
    text(ctx, histStats[1], ca.right - 1, ca.top + 217, font(22), "right");
    text(ctx, "B", 6, 59, font(24, "bold"), "left");
  },
};

function histConfig(): any {
  const mids = histAll.map((_, i) => (histBreaks[i] + histBreaks[i + 1]) / 2);
  const common = {
    borderColor: "#151515",
    borderWidth: 1,
    borderSkipped: false,
    grouped: false,
    barPercentage: 1,
    categoryPercentage: 1,
  };
  const grid = { display: true, drawOnChartArea: false, drawTicks: true, tickLength: 14, color: "#000", lineWidth: 1.5, tickColor: "#000", tickWidth: 1.5 };
  return {
    type: "bar",
    data: {
      datasets: [
        { label: histSeriesLabels[1], data: histNovel.map((v, i) => ({ x: mids[i], y: v })), backgroundColor: C_YELLOW_H, order: 1, ...common },
        { label: histSeriesLabels[0], data: histAll.map((v, i) => ({ x: mids[i], y: v })), backgroundColor: C_BLUE_H, order: 2, ...common },
      ],
    },
    options: {
      responsive: false,
      animation: false,
      events: [],
      layout: { padding: { top: 70.1, right: 21, left: 0, bottom: 0 } },
      plugins: { legend: { display: false }, tooltip: { enabled: false }, title: { display: false } },
      scales: {
        x: {
          type: "linear",
          min: 53.6,
          max: 310,
          offset: false,
          bounds: "data",
          afterBuildTicks: fixedTicks(histXTicks),
          afterFit: (s: any) => {
            s.height = 84;
          },
          ticks: { display: false },
          grid,
          border: { display: false },
        },
        y: {
          type: "linear",
          min: -65,
          max: 2115,
          bounds: "data",
          afterBuildTicks: fixedTicks(histYTicks),
          afterFit: (s: any) => {
            s.width = 146.4;
          },
          ticks: { display: false },
          grid,
          border: { display: false },
        },
      },
    },
    plugins: [histPlugin],
  };
}

// ---------------- Panel C config ----------------
const C_H = 605;
const maPlugin = {
  id: "maDecor",
  afterDatasetsDraw(chart: any) {
    const ctx = chart.ctx;
    const ca = chart.chartArea;
    const ys = chart.scales.y;
    ctx.save();
    ctx.beginPath();
    ctx.rect(ca.left, ca.top, ca.right - ca.left, ca.bottom - ca.top);
    ctx.clip();
    [maFoldThreshold, -maFoldThreshold].forEach((v) => {
      const y = ys.getPixelForValue(v);
      line(ctx, ca.left, y, ca.right, y, 1.6, "#8a9696", [4, 1.5]);
    });
    const y0 = ys.getPixelForValue(0);
    line(ctx, ca.left, y0, ca.right, y0, 5, "rgba(240,0,80,0.62)");
    ctx.restore();
  },
  afterDraw(chart: any) {
    const ctx = chart.ctx;
    const ca = chart.chartArea;
    const xs = chart.scales.x;
    const ys = chart.scales.y;
    ctx.save();
    ctx.strokeStyle = "#000";
    ctx.lineWidth = 1.5;
    ctx.strokeRect(ca.left, ca.top, ca.right - ca.left, ca.bottom - ca.top);
    ctx.restore();
    const ft = font(21.5);
    maXTicks.forEach((v) => text(ctx, rExp(v), xs.getPixelForValue(v), ca.bottom + 40, ft));
    maYTicks.forEach((v) => text(ctx, String(v), ca.left - 26.5, ys.getPixelForValue(v), ft, "center", "middle", -Math.PI / 2));
    text(ctx, maXLabel, (ca.left + ca.right) / 2, ca.bottom + 68, font(26));
    ctx.save();
    ctx.translate(30, (ca.top + ca.bottom) / 2);
    ctx.rotate(-Math.PI / 2);
    ctx.fillStyle = "#000";
    ctx.textBaseline = "middle";
    ctx.textAlign = "left";
    const f1 = font(26);
    const f2 = font(17);
    ctx.font = f1;
    const wa = ctx.measureText("log").width;
    const wc = ctx.measureText("(fold change)").width;
    ctx.font = f2;
    const wb = ctx.measureText("2").width;
    const st = -(wa + wb + wc) / 2;
    ctx.font = f1;
    ctx.fillText("log", st, 0);
    ctx.font = f2;
    ctx.fillText("2", st + wa, 7);
    ctx.font = f1;
    ctx.fillText("(fold change)", st + wa + wb, 0);
    ctx.restore();
    const legendItems = [
      { label: maLegendLabels[0], color: C_RED_PT, r: 4, dy: 39, ty: 47 },
      { label: maLegendLabels[1], color: "#111", r: 3, dy: 91, ty: 98 },
    ];
    legendItems.forEach((it) => {
      ctx.save();
      ctx.beginPath();
      ctx.fillStyle = it.color;
      ctx.arc(ca.left + 10.5, ca.top + it.dy, it.r, 0, Math.PI * 2);
      ctx.fill();
      ctx.restore();
      text(ctx, it.label, ca.left + 22, ca.top + it.ty, font(29), "left");
    });
    text(ctx, "C", 6, 41, font(24, "bold"), "left");
  },
};

function maConfig(): any {
  const grey: { x: number; y: number }[] = [];
  [...maCoreColumns, ...maCoreInner].forEach(([lx, ys]) => ys.forEach((y) => grey.push({ x: Math.pow(10, lx), y })));
  maScattered.forEach(([lx, y]) => grey.push({ x: Math.pow(10, lx), y }));
  const red = maSignificant.map(([lx, y]) => ({ x: Math.pow(10, lx), y }));
  const gridX = { display: true, drawOnChartArea: false, drawTicks: true, tickLength: 10, color: "#000", lineWidth: 1.5, tickColor: "#000", tickWidth: 1.5 };
  const gridY = { ...gridX, tickLength: 11 };
  return {
    type: "scatter",
    data: {
      datasets: [
        { label: maLegendLabels[0], data: red, pointRadius: 2.1, backgroundColor: C_RED_PT, borderWidth: 0, order: 1 },
        { label: maLegendLabels[1], data: grey, pointRadius: 2.4, backgroundColor: C_GREY_PT, borderWidth: 0, order: 2 },
      ],
    },
    options: {
      responsive: false,
      animation: false,
      events: [],
      layout: { padding: { top: 39, right: 9, left: 0, bottom: 0 } },
      plugins: { legend: { display: false }, tooltip: { enabled: false } },
      scales: {
        x: {
          type: "logarithmic",
          min: Math.pow(10, -1.3286),
          max: Math.pow(10, 5.302),
          bounds: "data",
          afterBuildTicks: fixedTicks(maXTicks),
          afterFit: (s: any) => {
            s.height = 82;
          },
          ticks: { display: false },
          grid: gridX,
          border: { display: false },
        },
        y: {
          type: "linear",
          min: -1.643,
          max: 1.688,
          bounds: "data",
          afterBuildTicks: fixedTicks(maYTicks),
          afterFit: (s: any) => {
            s.width = 98;
          },
          ticks: { display: false },
          grid: gridY,
          border: { display: false },
        },
      },
    },
    plugins: [maPlugin],
  };
}

export default function App() {
  const aRef = useRef<HTMLCanvasElement>(null);
  const bRef = useRef<HTMLCanvasElement>(null);
  const cRef = useRef<HTMLCanvasElement>(null);

  useEffect(() => {
    const charts = [
      new Chart(aRef.current as HTMLCanvasElement, vennConfig()),
      new Chart(bRef.current as HTMLCanvasElement, histConfig()),
      new Chart(cRef.current as HTMLCanvasElement, maConfig()),
    ];
    return () => charts.forEach((c) => c.destroy());
  }, []);

  const cs = (top: number, h: number): React.CSSProperties => ({ position: "absolute", left: 0, top, width: 661, height: h, display: "block" });
  return (
    <div style={{ position: "absolute", left: 0, top: 0, width: 661, height: 1520, background: "#fff" }}>
      <canvas ref={aRef} width={661} height={A_H} style={cs(0, A_H)} />
      <canvas ref={bRef} width={661} height={B_H} style={cs(A_H, B_H)} />
      <canvas ref={cRef} width={661} height={C_H} style={cs(A_H + B_H, C_H)} />
    </div>
  );
}
